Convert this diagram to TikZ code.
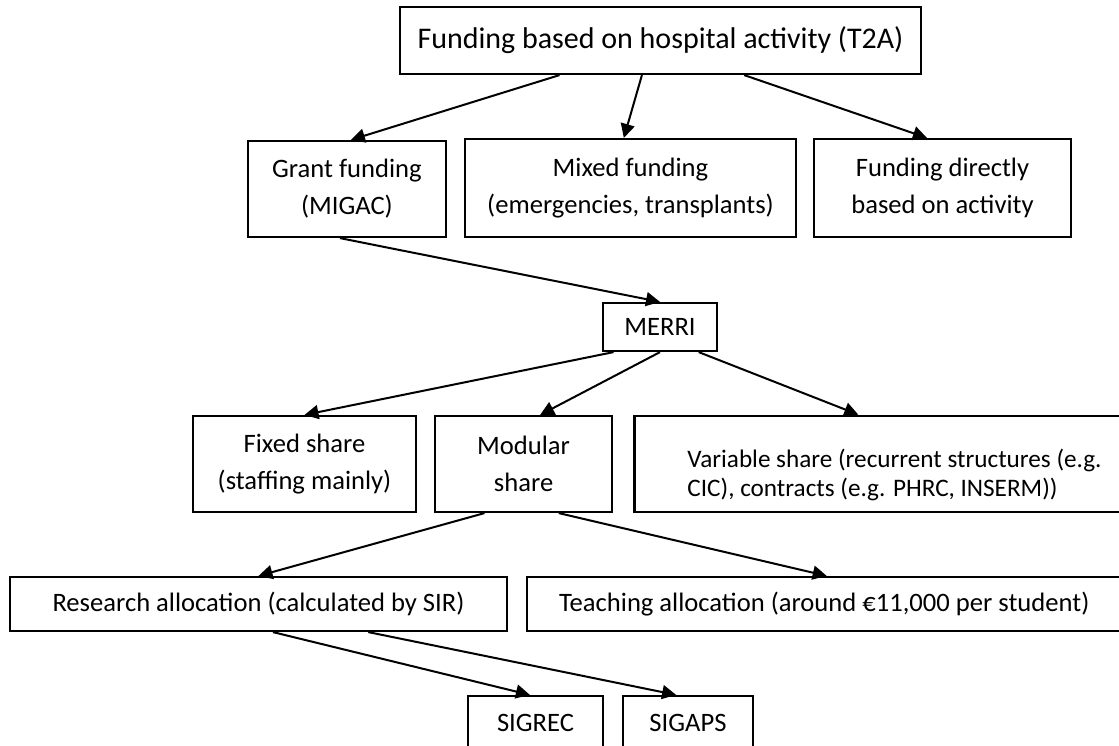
\documentclass[tikz,border=0pt]{standalone}
\usepackage{fontspec}
\setmainfont{Carlito}
\usetikzlibrary{arrows.meta,calc}
\begin{document}
\begin{tikzpicture}[x=1pt,y=-1pt,
  box/.style={draw,line width=2.2pt,inner sep=0pt,align=center,font=\fontsize{26.6}{37}\selectfont},
  arr/.style={line width=2pt,-{Triangle[length=14pt,width=14pt]}}]
\clip (0,0) rectangle (1119,745);
\fill[white] (0,0) rectangle (1119,745);
% row 1
\node[box,font=\fontsize{30}{37}\selectfont,minimum width=521pt,minimum height=67pt] (top) at (660.5,40.5) {Funding based on hospital activity (T2A)};
% row 2
\node[box,minimum width=197.5pt,minimum height=96pt] (grant) at (346.9,189) {Grant funding\\(MIGAC)};
\node[box,minimum width=331pt,minimum height=98pt] (mixed) at (630.5,188) {Mixed funding\\(emergencies, transplants)};
\node[box,minimum width=257pt,minimum height=98pt] (direct) at (942.5,188) {Funding directly\\based on activity};
% row 3
\node[box,minimum width=114pt,minimum height=48pt] (merri) at (660,327) {MERRI};
% row 4
\node[box,minimum width=223pt,minimum height=96pt] (fixed) at (304.5,464) {Fixed share\\(staffing mainly)};
\node[box,minimum width=177.3pt,minimum height=96pt] (modular) at (523.6,464) {Modular\\share};
\node[box,font=\fontsize{25.2}{29.5}\selectfont,anchor=west,align=left,inner xsep=53pt,minimum height=96.5pt] (variable) at (633.3,464) {\rule{0pt}{40pt}Variable share (recurrent structures (e.g.\\CIC), contracts (e.g. PHRC, INSERM))};
% row 5
\node[box,minimum width=497pt,minimum height=54pt] (research) at (258.5,604) {Research allocation (calculated by SIR)};
\node[box,anchor=west,inner xsep=32pt,minimum height=54pt] (teaching) at (526,604) {Teaching allocation (around €11,000 per student)};
% row 6
\node[box,minimum width=135pt,minimum height=54pt] (sigrec) at (535.5,723) {SIGREC};
\node[box,minimum width=130pt,minimum height=54pt] (sigaps) at (688,723) {SIGAPS};
% connectors
\draw[arr] ($(top.south west)!0.307!(top.south east)$) -- ($(grant.north west)!0.52!(grant.north east)$);
\draw[arr] ($(top.south west)!0.4645!(top.south east)$) -- ($(mixed.north west)!0.48!(mixed.north east)$);
\draw[arr] ($(top.south west)!0.66!(top.south east)$) -- ($(direct.north west)!0.44!(direct.north east)$);
\draw[arr] ($(grant.south west)!0.465!(grant.south east)$) -- (merri.north);
\draw[arr] ($(merri.south west)!0.1!(merri.south east)$) -- (fixed.north);
\draw[arr] (merri.south) -- ($(modular.north west)!0.592!(modular.north east)$);
\draw[arr] ($(merri.south west)!0.833!(merri.south east)$) -- ($(variable.north west)+(225,0)$);
\draw[arr] ($(modular.south west)!0.282!(modular.south east)$) -- (research.north);
\draw[arr] ($(modular.south west)!0.696!(modular.south east)$) -- ($(teaching.north west)+(300.7,0)$);
\draw[arr] ($(research.south west)!0.529!(research.south east)$) -- ($(sigrec.north west)!0.459!(sigrec.north east)$);
\draw[arr] ($(research.south west)!0.72!(research.south east)$) -- ($(sigaps.north west)!0.41!(sigaps.north east)$);
\end{tikzpicture}
\end{document}
